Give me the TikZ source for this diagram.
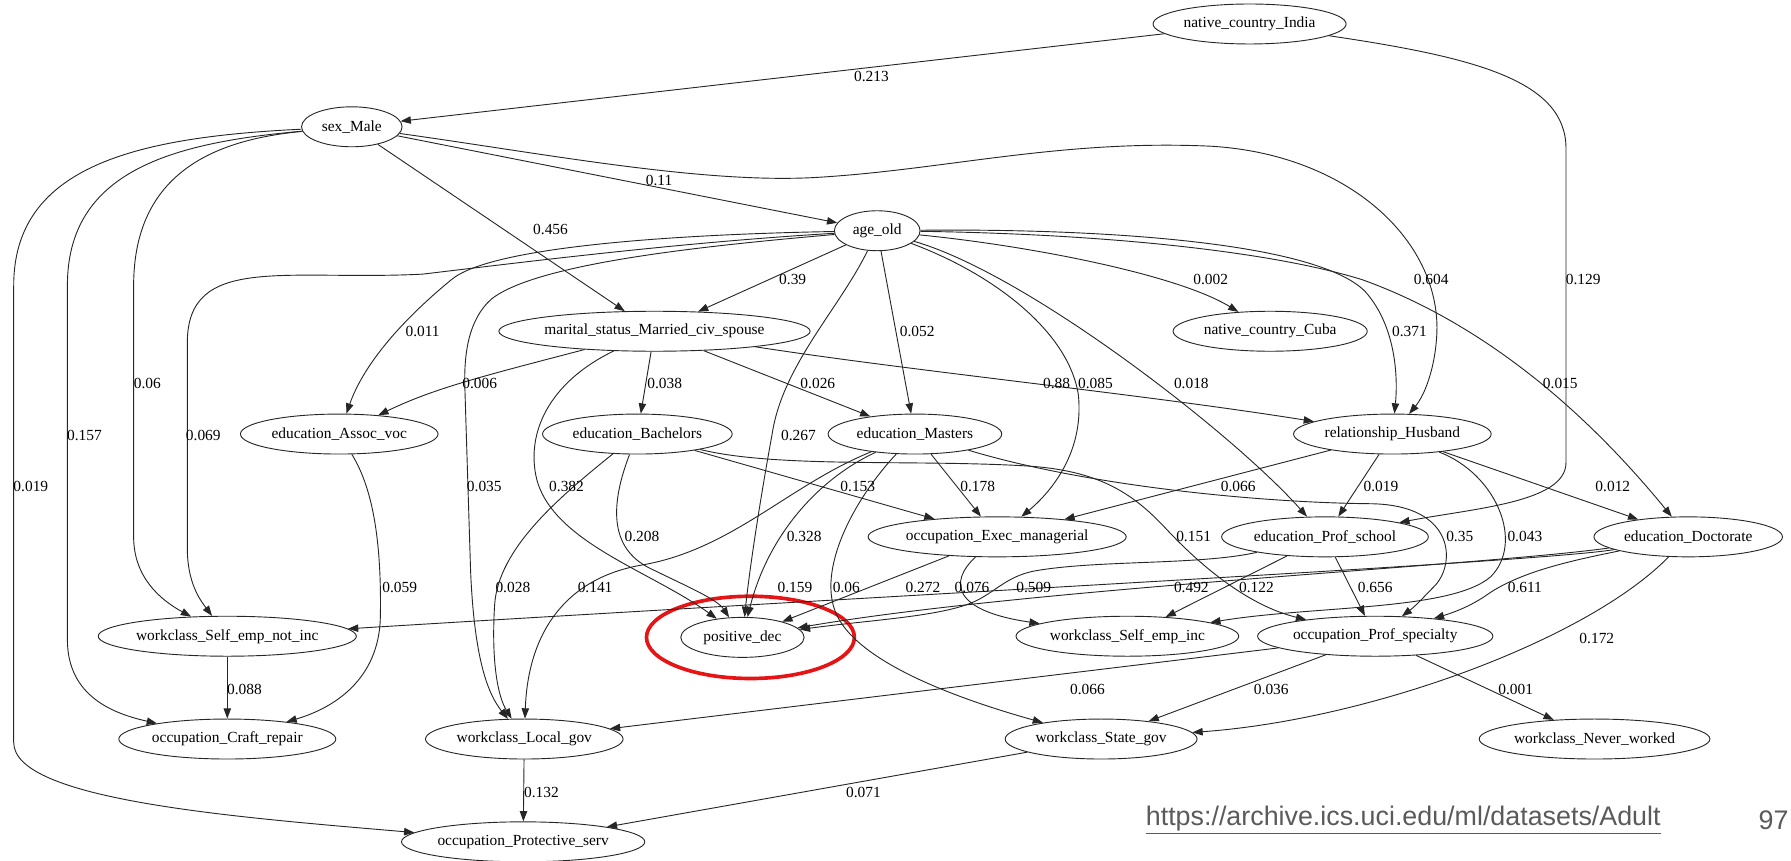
\documentclass[tikz,border=0pt]{standalone}
\usepackage{fontspec}
\setmainfont{Liberation Serif}
\newfontfamily\urlfont{Liberation Sans}
\usetikzlibrary{arrows.meta,shapes.geometric}
\definecolor{ringred}{RGB}{230,20,20}
\definecolor{urlgray}{RGB}{90,90,90}
\newcommand{\gfont}{\fontsize{13.5}{15}\selectfont}
\begin{document}
\begin{tikzpicture}[x=1pt,y=-1pt,
  gn/.style={ellipse, draw=black!85, line width=0.8pt, inner xsep=0pt, inner ysep=0pt, minimum height=35pt, font=\gfont},
  e/.style={draw=black!85, line width=0.8pt, -{Triangle[length=9pt,width=6.5pt]}},
  lb/.style={font=\gfont, inner sep=0pt}]
\useasboundingbox (0,0) rectangle (1568,753);
% nodes
\node[gn, minimum width=169pt] (india) at (1094,21) {native\_country\_India};
\node[gn, minimum width=88pt] (sex) at (308,111) {sex\_Male};
\node[gn, minimum width=75pt] (age) at (768,202) {age\_old};
\node[gn, minimum width=269pt] (marital) at (573,290) {marital\_status\_Married\_civ\_spouse};
\node[gn, minimum width=170pt] (cuba) at (1112,290) {native\_country\_Cuba};
\node[gn, minimum width=173pt] (assoc) at (297,380) {education\_Assoc\_voc};
\node[gn, minimum width=166pt] (bach) at (558,380) {education\_Bachelors};
\node[gn, minimum width=152pt] (masters) at (801,380) {education\_Masters};
\node[gn, minimum width=173pt] (husband) at (1219,380) {relationship\_Husband};
\node[gn, minimum width=226pt] (exec) at (873,470) {occupation\_Exec\_managerial};
\node[gn, minimum width=181pt] (profschool) at (1160,470) {education\_Prof\_school};
\node[gn, minimum width=165pt] (doctorate) at (1478,470) {education\_Doctorate};
\node[gn, minimum width=226pt] (senotinc) at (199,557) {workclass\_Self\_emp\_not\_inc};
\node[gn, minimum width=108pt] (posdec) at (650,558) {positive\_dec};
\node[gn, minimum width=195pt] (seinc) at (987,557) {workclass\_Self\_emp\_inc};
\node[gn, minimum width=206pt] (profspec) at (1204,557) {occupation\_Prof\_specialty};
\node[gn, minimum width=190pt] (craft) at (199,647) {occupation\_Craft\_repair};
\node[gn, minimum width=173pt] (localgov) at (459,647) {workclass\_Local\_gov};
\node[gn, minimum width=168pt] (stategov) at (964,647) {workclass\_State\_gov};
\node[gn, minimum width=202pt] (never) at (1396,647) {workclass\_Never\_worked};
\node[gn, minimum width=213pt] (protective) at (458,737) {occupation\_Protective\_serv};
% highlight ring
\draw[ringred, line width=3.2pt] (657,558) ellipse [x radius=91pt, y radius=36pt];
% edges
\draw[e] (india) -- (sex);
\draw[e] (india) .. controls (1290,50) and (1371,70) .. (1371,130) -- (1371,405) .. controls (1371,440) and (1290,445) .. (profschool);
\draw[e] (sex) -- (age);
\draw[e] (sex) -- (marital);
\draw[e] (sex) .. controls (480,135) and (620,162) .. (720,155) .. controls (830,148) and (930,122) .. (1060,128) .. controls (1180,135) and (1260,210) .. (1258,290) .. controls (1257,320) and (1248,345) .. (husband);
\draw[e] (sex) .. controls (190,122) and (117,150) .. (117,250) -- (117,470) .. controls (117,505) and (140,525) .. (senotinc);
\draw[e] (sex) .. controls (150,125) and (59,150) .. (59,250) -- (59,560) .. controls (59,610) and (100,625) .. (craft);
\draw[e] (sex) .. controls (120,120) and (12,145) .. (12,250) -- (12,650) .. controls (12,700) and (200,715) .. (protective);
\draw[e] (age) -- (marital);
\draw[e] (age) .. controls (900,215) and (1030,240) .. (cuba);
\draw[e] (age) .. controls (950,200) and (1150,210) .. (1195,255) .. controls (1222,285) and (1224,330) .. (husband);
\draw[e] (age) .. controls (980,205) and (1120,222) .. (1193,245) .. controls (1290,280) and (1380,350) .. (doctorate);
\draw[e] (age) .. controls (900,240) and (1080,380) .. (profschool);
\draw[e] (age) .. controls (870,240) and (935,290) .. (944,345) .. controls (950,400) and (915,435) .. (exec);
\draw[e] (age) -- (masters);
\draw[e] (age) .. controls (735,270) and (685,320) .. (676,380) .. controls (665,440) and (656,500) .. (posdec);
\draw[e] (age) .. controls (600,205) and (430,215) .. (395,245) .. controls (350,282) and (318,320) .. (assoc);
\draw[e] (age) .. controls (600,212) and (470,228) .. (370,240) .. controls (250,246) and (164,222) .. (164,300) -- (164,480) .. controls (164,510) and (175,525) .. (senotinc);
\draw[e] (age) .. controls (620,215) and (470,230) .. (430,262) .. controls (410,280) and (406,310) .. (407,340) -- (412,500) .. controls (415,570) and (425,605) .. (localgov);
\draw[e] (marital) .. controls (420,330) and (380,340) .. (assoc);
\draw[e] (marital) -- (bach);
\draw[e] (marital) -- (masters);
\draw[e] (marital) .. controls (800,325) and (1000,345) .. (husband);
\draw[e] (marital) .. controls (480,335) and (460,380) .. (470,420) .. controls (485,475) and (570,500) .. (posdec);
\draw[e] (assoc) .. controls (328,430) and (334,480) .. (333,540) .. controls (332,595) and (292,620) .. (craft);
\draw[e] (senotinc) -- (craft);
\draw[e] (bach) .. controls (535,440) and (532,480) .. (570,498) .. controls (605,515) and (628,525) .. (posdec);
\draw[e] (bach) .. controls (490,435) and (436,480) .. (433,530) .. controls (430,580) and (436,610) .. (localgov);
\draw[e] (bach) -- (exec);
\draw[e] (bach) .. controls (680,410) and (800,402) .. (900,408) .. controls (960,412) and (990,430) .. (1020,462) .. controls (1060,505) and (1100,532) .. (profspec);
\draw[e] (masters) .. controls (715,420) and (672,470) .. (posdec);
\draw[e] (masters) .. controls (690,425) and (640,482) .. (560,495) .. controls (490,508) and (462,560) .. (localgov);
\draw[e] (masters) .. controls (745,440) and (712,505) .. (735,543) .. controls (760,585) and (850,615) .. (stategov);
\draw[e] (masters) -- (exec);
\draw[e] (masters) .. controls (950,425) and (1100,440) .. (1200,441) .. controls (1275,442) and (1275,495) .. (1255,514) .. controls (1247,522) and (1240,530) .. (profspec);
\draw[e] (husband) -- (exec);
\draw[e] (husband) -- (profschool);
\draw[e] (husband) -- (doctorate);
\draw[e] (husband) .. controls (1310,415) and (1335,475) .. (1305,505) .. controls (1270,535) and (1150,530) .. (seinc);
\draw[e] (exec) -- (posdec);
\draw[e] (exec) .. controls (830,510) and (835,535) .. (seinc);
\draw[e] (profschool) .. controls (1050,495) and (960,490) .. (905,500) .. controls (880,505) and (870,520) .. (850,528) .. controls (820,540) and (760,543) .. (posdec);
\draw[e] (profschool) -- (seinc);
\draw[e] (profschool) -- (profspec);
\draw[e] (doctorate) .. controls (1380,490) and (1330,500) .. (1300,522) .. controls (1285,532) and (1270,537) .. (profspec);
\draw[e] (doctorate) .. controls (1390,560) and (1200,630) .. (stategov);
\draw[e] (doctorate) .. controls (1350,492) and (800,520) .. (senotinc);
\draw[e] (doctorate) .. controls (1300,495) and (900,515) .. (posdec);
\draw[e] (profspec) -- (localgov);
\draw[e] (profspec) -- (stategov);
\draw[e] (profspec) -- (never);
\draw[e] (localgov) -- (protective);
\draw[e] (stategov) -- (protective);
% labels
\node[lb] at (763,67) {0.213};
\node[lb] at (577,158) {0.11};
\node[lb] at (482,201) {0.456};
\node[lb] at (694,245) {0.39};
\node[lb] at (1060,245) {0.002};
\node[lb] at (1253,245) {0.604};
\node[lb] at (1386,245) {0.129};
\node[lb] at (370,290) {0.011};
\node[lb] at (803,290) {0.052};
\node[lb] at (1234,290) {0.371};
\node[lb] at (129,336) {0.06};
\node[lb] at (420,336) {0.006};
\node[lb] at (582,336) {0.038};
\node[lb] at (716,336) {0.026};
\node[lb] at (925,336) {0.88};
\node[lb] at (959,336) {0.085};
\node[lb] at (1043,336) {0.018};
\node[lb] at (1366,336) {0.015};
\node[lb] at (74,381) {0.157};
\node[lb] at (178,381) {0.069};
\node[lb] at (699,381) {0.267};
\node[lb] at (27,426) {0.019};
\node[lb] at (424,426) {0.035};
\node[lb] at (496,426) {0.382};
\node[lb] at (751,426) {0.153};
\node[lb] at (856,426) {0.178};
\node[lb] at (1084,426) {0.066};
\node[lb] at (1209,426) {0.019};
\node[lb] at (1412,426) {0.012};
\node[lb] at (562,470) {0.208};
\node[lb] at (704,470) {0.328};
\node[lb] at (1045,470) {0.151};
\node[lb] at (1278,470) {0.35};
\node[lb] at (1335,470) {0.043};
\node[lb] at (350,514) {0.059};
\node[lb] at (449,514) {0.028};
\node[lb] at (521,514) {0.141};
\node[lb] at (696,514) {0.159};
\node[lb] at (741,514) {0.06};
\node[lb] at (808,514) {0.272};
\node[lb] at (851,514) {0.076};
\node[lb] at (905,514) {0.509};
\node[lb] at (1043,514) {0.492};
\node[lb] at (1100,514) {0.122};
\node[lb] at (1204,514) {0.656};
\node[lb] at (1335,514) {0.611};
\node[lb] at (1398,559) {0.172};
\node[lb] at (214,604) {0.088};
\node[lb] at (952,604) {0.066};
\node[lb] at (1113,604) {0.036};
\node[lb] at (1327,604) {0.001};
\node[lb] at (474,694) {0.132};
\node[lb] at (756,694) {0.071};
% footer
\node[anchor=west, inner sep=0pt, text=urlgray, font=\urlfont\fontsize{23.5}{26}\selectfont] (url) at (1003,718) {\underline{https://archive.ics.uci.edu/ml/datasets/Adult}};
\node[anchor=east, inner sep=0pt, text=urlgray, font=\urlfont\fontsize{23.5}{26}\selectfont] (page) at (1566,718) {97};
\end{tikzpicture}
\end{document}
